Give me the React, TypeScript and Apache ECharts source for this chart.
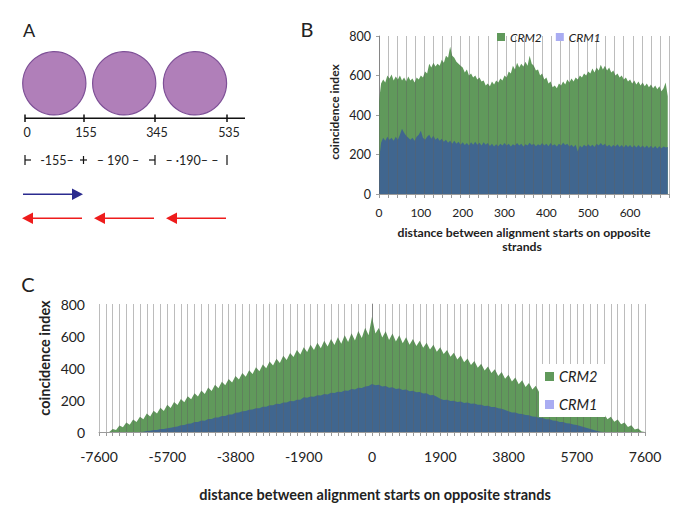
import React, { useEffect, useRef } from "react";
import * as echarts from "echarts";

// ---------- Data ----------
// Panel B: x = 0..690 step 5
const crm2B = [
  470, 560, 580, 565, 600, 585, 605, 575, 595, 580,
  600, 575, 590, 570, 595, 575, 585, 565, 590, 580,
  600, 590, 620, 610, 660, 640, 665, 645, 660, 650,
  680, 665, 700, 690, 745, 700, 690, 670, 660, 650,
  640, 615, 630, 600, 610, 590, 600, 580, 590, 570,
  575, 550, 560, 545, 570, 555, 575, 565, 585, 575,
  600, 590, 620, 610, 650, 630, 665, 640, 660, 645,
  670, 650, 700, 660, 650, 625, 630, 600, 610, 580,
  590, 560, 570, 540, 550, 535, 560, 550, 570, 555,
  580, 565, 585, 570, 590, 580, 600, 590, 610, 600,
  620, 610, 635, 615, 640, 625, 655, 630, 650, 625,
  640, 615, 625, 600, 610, 590, 600, 580, 590, 570,
  580, 560, 575, 555, 570, 550, 565, 545, 560, 540,
  555, 535, 550, 530, 545, 520, 535, 565, 495,
];
const crm1B = [
  170, 260, 285, 270, 290, 275, 285, 270, 290, 275,
  300, 330, 310, 295, 285, 275, 285, 270, 290, 300,
  320, 285, 275, 290, 300, 280, 295, 275, 285, 270,
  280, 265, 275, 260, 270, 255, 270, 255, 265, 250,
  262, 248, 258, 245, 262, 250, 265, 250, 260, 245,
  262, 250, 258, 243, 255, 240, 252, 242, 255, 245,
  258, 245, 255, 240, 252, 245, 258, 245, 255, 240,
  252, 245, 260, 248, 255, 242, 252, 245, 258, 245,
  255, 242, 258, 245, 252, 240, 255, 245, 260, 248,
  255, 240, 250, 238, 250, 215, 245, 235, 250, 240,
  252, 240, 250, 238, 255, 245, 258, 245, 255, 240,
  250, 238, 248, 240, 252, 238, 248, 236, 250, 238,
  248, 235, 247, 236, 248, 235, 246, 234, 245, 233,
  244, 232, 243, 230, 242, 232, 240, 235, 238,
];
// Panel C: x = -7600..7600 step 95
const crm2C = [
  0, 0, 0, 0, 18, 12, 40, 30, 60, 46,
  78, 63, 96, 80, 115, 97, 133, 115, 151, 132,
  170, 150, 188, 168, 206, 186, 224, 204, 242, 222,
  260, 238, 278, 256, 296, 274, 314, 292, 332, 310,
  350, 328, 368, 345, 386, 362, 404, 380, 422, 398,
  440, 415, 458, 432, 476, 450, 494, 468, 512, 485,
  530, 500, 545, 513, 558, 524, 570, 535, 582, 543,
  592, 552, 604, 562, 617, 572, 632, 588, 652, 605,
  720, 615, 650, 590, 630, 575, 615, 565, 604, 555,
  592, 545, 582, 537, 570, 526, 558, 515, 545, 502,
  530, 488, 512, 470, 495, 453, 478, 436, 460, 419,
  443, 402, 426, 385, 409, 368, 392, 350, 375, 333,
  358, 316, 341, 299, 324, 282, 306, 265, 289, 248,
  272, 231, 255, 214, 238, 197, 220, 180, 202, 163,
  185, 146, 167, 130, 150, 113, 132, 96, 114, 80,
  96, 64, 78, 48, 60, 32, 42, 16, 22, 3,
  0,
];
const crm1C = [
  0, 0, 0, 0, 0, 0, 0, 0, 0, 0,
  0, 0, 0, 2, 6, 8, 12, 13, 18, 19,
  24, 26, 32, 34, 42, 44, 52, 53, 62, 62,
  72, 71, 81, 81, 90, 90, 100, 100, 110, 110,
  121, 122, 130, 131, 139, 140, 149, 149, 158, 158,
  167, 167, 176, 175, 184, 184, 193, 192, 201, 201,
  217, 214, 222, 220, 230, 228, 238, 235, 245, 243,
  252, 250, 260, 258, 268, 266, 276, 275, 285, 288,
  300, 292, 296, 284, 288, 276, 280, 268, 272, 262,
  265, 255, 258, 248, 250, 240, 242, 230, 232, 220,
  208, 200, 202, 194, 196, 188, 190, 182, 184, 176,
  178, 170, 171, 163, 164, 156, 157, 148, 146, 138,
  130, 122, 122, 114, 113, 106, 104, 97, 96, 89,
  87, 80, 79, 72, 70, 63, 62, 55, 53, 47,
  44, 38, 32, 25, 18, 12, 6, 2, 0, 0,
  0, 0, 0, 0, 0, 0, 0, 0, 0, 0,
  0,
];
const xStepB = 5;
const xStartC = -7600;
const xStepC = 95;
const bXTicks = [0, 100, 200, 300, 400, 500, 600];
const bXMax = 693;
const bGridLines = 32;
const cXTicks = [-7600, -5700, -3800, -1900, 0, 1900, 3800, 5700, 7600];
const cGridLines = 80;
const yTicks = [0, 200, 400, 600, 800];
const seriesNames = ["CRM2", "CRM1"];
// Panel A
const nucPositions = ["0", "155", "345", "535"];

const GREEN = "#60995b";
const BLUE = "#40668f";
const LAV = "#a9acf2";
const FONT = "Lato, 'Open Sans', sans-serif";
const TXT = "#222";

export default function App() {
  const ref = useRef<HTMLDivElement>(null);
  useEffect(() => {
    if (!ref.current) return;
    const chart = echarts.init(ref.current, undefined, { renderer: "svg" });
    const bData2 = crm2B.map((v, i) => [i * xStepB, v]);
    const bData1 = crm1B.map((v, i) => [i * xStepB, v]);
    const cData2 = crm2C.map((v, i) => [xStartC + i * xStepC, v]);
    const cData1 = crm1C.map((v, i) => [xStartC + i * xStepC, v]);

    const txt = (text: string, x: number, y: number, size: number, opts: any = {}) => ({
      type: "text",
      x,
      y,
      rotation: opts.rotation || 0,
      style: {
        text,
        fontSize: size,
        fontFamily: FONT,
        fontWeight: opts.bold ? "bold" : "normal",
        fontStyle: opts.italic ? "italic" : "normal",
        fill: opts.fill || TXT,
        textAlign: opts.align || "center",
        textVerticalAlign: "middle",
        verticalAlign: "middle",
      },
    });
    const ln = (x1: number, y1: number, x2: number, y2: number, color = "#111", w = 1.3) => ({
      type: "line",
      shape: { x1, y1, x2, y2 },
      style: { stroke: color, lineWidth: w },
    });
    const circ = (cx: number) => ({
      type: "circle",
      shape: { cx, cy: 83.3, r: 31.6 },
      style: { fill: "#b07fb9", stroke: "#7e5097", lineWidth: 1.2 },
    });
    const tickXs = [25, 84, 155, 227];
    const RED = "#ee1c1c";
    const NAVY = "#2b2b8f";

    const graphics: any[] = [
      txt("A", 29, 30, 18),
      txt("B", 307, 29, 20),
      txt("C", 28, 284, 20),
      circ(54.3),
      circ(124.2),
      circ(195),
      ln(25, 118.3, 245, 118.3, "#111", 1.5),
      ...tickXs.map((x) => ln(x, 114.5, x, 122, "#111", 1.5)),
      ...nucPositions.map((t, i) => txt(t, tickXs[i] + 2, 132.5, 12.5, { fill: "#222" })),
      // spacing row
      ln(25, 155, 25, 165, "#111", 1.2),
      ln(25, 160, 31, 160, "#111", 1.2),
      txt("-155\u2013", 57, 160, 12.5),
      ln(80, 160, 87, 160, "#111", 1.2),
      ln(83.5, 156, 83.5, 164, "#111", 1.2),
      txt("\u2013 190 \u2013", 118, 160, 12.5),
      ln(149, 160, 155, 160, "#111", 1.2),
      ln(155, 155, 155, 165, "#111", 1.2),
      txt("\u2013 \u00b7190\u2013 \u2013", 192, 160, 12.5),
      ln(227, 155, 227, 165, "#111", 1.2),
      // blue arrow
      ln(23, 194.3, 74, 194.3, NAVY, 1.6),
      { type: "polygon", shape: { points: [[72, 188.5], [83, 194.3], [72, 200]] }, style: { fill: NAVY } },
      // red arrows
      ...[22, 94, 166].map((x) => ln(x + 8, 218.3, x + 60, 218.3, RED, 1.6)),
      ...[22, 94, 166].map((x) => ({
        type: "polygon",
        shape: { points: [[x, 218.3], [x + 11, 212.5], [x + 11, 224]] },
        style: { fill: RED },
      })),
      // axis titles
      txt("coincidence index", 334, 112, 12, { bold: true, rotation: Math.PI / 2 }),
      txt("distance between alignment starts on opposite", 524, 232, 12.2, { bold: true }),
      txt("strands", 522, 246.5, 12.2, { bold: true }),
      txt("coincidence index", 44, 358, 14.5, { bold: true, rotation: Math.PI / 2 }),
      txt("distance between alignment starts on opposite strands", 375, 494, 14.5, { bold: true }),
    ];

    const axisLabel = (size: number, margin: number) => ({
      color: TXT,
      fontSize: size,
      fontFamily: FONT,
      margin,
      formatter: (v: number) => String(v),
    });
    const gridLineAxis = (gridIndex: number, n: number) => ({
      type: "value",
      gridIndex,
      position: "bottom",
      min: 0,
      max: n,
      interval: 1,
      z: 3,
      axisLine: { show: false },
      axisLabel: { show: false },
      axisTick: { show: true, length: 4, lineStyle: { color: "#9a9a9a", width: 1 } },
      splitLine: { show: true, lineStyle: { color: "rgba(95,95,95,0.42)", width: 1 } },
    });

    const legendData = [
      { name: seriesNames[0], itemStyle: { color: GREEN } },
      { name: seriesNames[1], itemStyle: { color: LAV } },
    ];

    chart.setOption({
      animation: false,
      backgroundColor: "#fff",
      textStyle: { fontFamily: FONT },
      graphic: graphics,
      legend: [
        {
          data: legendData,
          orient: "horizontal",
          left: 497,
          top: 31,
          icon: "rect",
          itemWidth: 8,
          itemHeight: 8,
          itemGap: 14,
          padding: 0,
          z: 10,
          selectedMode: false,
          textStyle: { fontSize: 12, fontStyle: "italic", color: TXT, fontFamily: FONT },
        },
        {
          data: legendData,
          orient: "vertical",
          left: 539,
          top: 364,
          icon: "rect",
          itemWidth: 9,
          itemHeight: 9,
          itemGap: 13,
          padding: [5, 8, 5, 6],
          backgroundColor: "#fff",
          z: 10,
          selectedMode: false,
          textStyle: { fontSize: 14.5, fontStyle: "italic", color: TXT, fontFamily: FONT },
        },
      ],
      grid: [
        { left: 379, top: 36, width: 290, height: 158, outerBoundsMode: "none", containLabel: false },
        { left: 99, top: 304, width: 546, height: 128, outerBoundsMode: "none", containLabel: false },
      ],
      xAxis: [
        {
          type: "value",
          gridIndex: 0,
          min: bXTicks[0],
          max: bXMax,
          interval: bXTicks[1] - bXTicks[0],
          axisLabel: { ...axisLabel(12, 12), showMaxLabel: false },
          axisLine: { show: true, lineStyle: { color: "#9a9a9a", width: 1 } },
          axisTick: { show: false },
          splitLine: { show: false },
        },
        gridLineAxis(0, bGridLines),
        {
          type: "value",
          gridIndex: 1,
          min: cXTicks[0],
          max: cXTicks[cXTicks.length - 1],
          interval: cXTicks[1] - cXTicks[0],
          axisLabel: axisLabel(14, 17),
          axisLine: { show: true, lineStyle: { color: "#9a9a9a", width: 1 } },
          axisTick: { show: false },
          splitLine: { show: false },
        },
        gridLineAxis(1, cGridLines),
      ],
      yAxis: [
        {
          type: "value",
          gridIndex: 0,
          min: yTicks[0],
          max: yTicks[yTicks.length - 1],
          interval: yTicks[1] - yTicks[0],
          axisLabel: axisLabel(12.5, 8),
          axisLine: { show: true, lineStyle: { color: "#a0a0a0", width: 1 } },
          axisTick: { show: true, length: 3, lineStyle: { color: "#a0a0a0" } },
          splitLine: { show: false },
        },
        {
          type: "value",
          gridIndex: 1,
          min: yTicks[0],
          max: yTicks[yTicks.length - 1],
          interval: yTicks[1] - yTicks[0],
          axisLabel: axisLabel(14, 14),
          axisLine: { show: true, lineStyle: { color: "#a0a0a0", width: 1 } },
          axisTick: { show: false },
          splitLine: { show: false },
        },
      ],
      series: [
        {
          type: "line", name: seriesNames[0], xAxisIndex: 0, yAxisIndex: 0, data: bData2,
          symbol: "none", lineStyle: { width: 0, opacity: 0 }, itemStyle: { color: GREEN },
          areaStyle: { color: GREEN, opacity: 1 }, z: 2,
        },
        {
          type: "line", name: seriesNames[1], xAxisIndex: 0, yAxisIndex: 0, data: bData1,
          symbol: "none", lineStyle: { width: 0, opacity: 0 }, itemStyle: { color: BLUE },
          areaStyle: { color: BLUE, opacity: 1 }, z: 2,
        },
        {
          type: "line", name: seriesNames[0], xAxisIndex: 2, yAxisIndex: 1, data: cData2,
          symbol: "none", lineStyle: { width: 0, opacity: 0 }, itemStyle: { color: GREEN },
          areaStyle: { color: GREEN, opacity: 1 }, z: 2,
        },
        {
          type: "line", name: seriesNames[1], xAxisIndex: 2, yAxisIndex: 1, data: cData1,
          symbol: "none", lineStyle: { width: 0, opacity: 0 }, itemStyle: { color: BLUE },
          areaStyle: { color: BLUE, opacity: 1 }, z: 2,
        },
      ],
    });
    return () => chart.dispose();
  }, []);
  return (
    <div
      ref={ref}
      style={{ position: "fixed", left: 0, top: 0, width: 685, height: 509, background: "#fff" }}
    />
  );
}
